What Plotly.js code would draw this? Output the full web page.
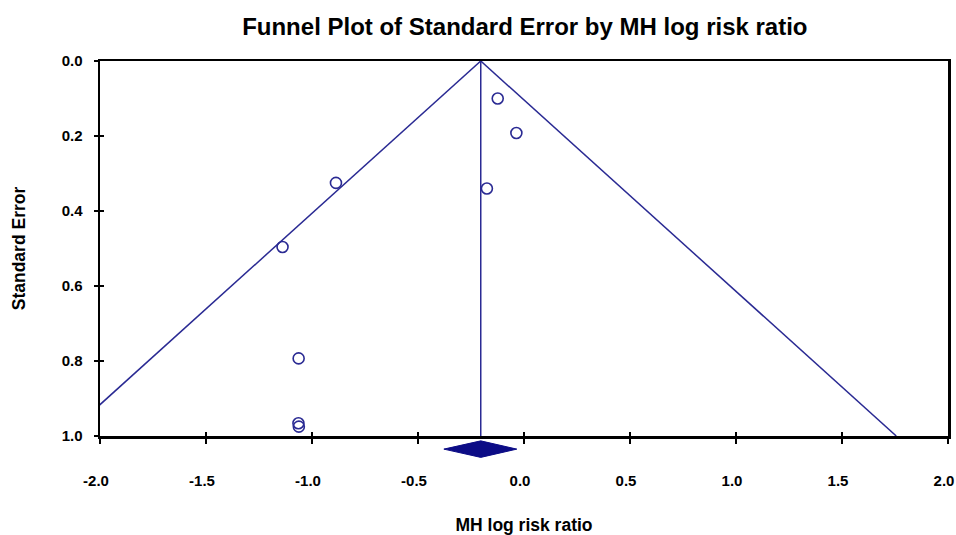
<!DOCTYPE html>
<html>
<head>
<meta charset="utf-8">
<script src="https://cdn.plot.ly/plotly-3.0.1.min.js"></script>
<style>html,body{margin:0;padding:0;background:#fff}#chart{width:956px;height:535px}</style>
</head>
<body>
<div id="chart"></div>
<script>
// Study effects (MH log risk ratio) and standard errors
const studyLogRR = [-0.124, -0.036, -0.175, -0.887, -1.139, -1.063, -1.064, -1.062];
const studySE    = [0.100, 0.192, 0.340, 0.325, 0.496, 0.793, 0.966, 0.975];
// Pooled estimate and its confidence interval
const pooledLogRR = -0.204;
const pooledLow = -0.378;
const pooledHigh = -0.034;
const diamondSE = 1.035;
const diamondHalf = 0.022;
// Funnel limits (1.96 * SE)
const funnelSE = [0, 1];
const xTicks = [-2.0, -1.5, -1.0, -0.5, 0.0, 0.5, 1.0, 1.5, 2.0];
const yTicks = [0.0, 0.2, 0.4, 0.6, 0.8, 1.0];

const navy = '#2a2a93';
const font = 'Liberation Sans, Arial, sans-serif';

const leftX = funnelSE.map(s => pooledLogRR - 1.96 * s);
const rightX = funnelSE.map(s => pooledLogRR + 1.96 * s);

const traces = [
  {x: leftX, y: funnelSE, mode: 'lines', line: {color: navy, width: 1.5}, hoverinfo: 'skip'},
  {x: rightX, y: funnelSE, mode: 'lines', line: {color: navy, width: 1.5}, hoverinfo: 'skip'},
  {x: [pooledLogRR, pooledLogRR], y: funnelSE, mode: 'lines', line: {color: navy, width: 1.5}, hoverinfo: 'skip'},
  {x: studyLogRR, y: studySE, mode: 'markers',
   marker: {symbol: 'circle-open', size: 11, color: navy, line: {width: 1.6, color: navy}}},
  {x: [pooledLow, pooledLogRR, pooledHigh, pooledLogRR, pooledLow],
   y: [diamondSE, diamondSE - diamondHalf, diamondSE, diamondSE + diamondHalf, diamondSE],
   xaxis: 'x', yaxis: 'y3',
   mode: 'lines', fill: 'toself', fillcolor: '#0c0c86', line: {color: '#0c0c86', width: 1},
   cliponaxis: false, hoverinfo: 'skip'},
  // invisible trace to activate the overlay tick axes
  {x: [0], y: [0.5], xaxis: 'x2', yaxis: 'y2', mode: 'markers', marker: {opacity: 0}, hoverinfo: 'skip'}
];

const tickLabels = xTicks.map(v => v.toFixed(1));
const yLabels = yTicks.map(v => v.toFixed(1));

// plot region: top 61, bottom 495; main axis bottom at 436 (375 px tall)
const marginB = 40;
const regionH = 535 - 61 - marginB;
const belowPx = 535 - marginB - 436;
const mainBottom = belowPx / regionH;

const layout = {
  width: 956, height: 535,
  margin: {l: 100, r: 8, t: 61, b: marginB},
  paper_bgcolor: '#fff', plot_bgcolor: 'rgba(0,0,0,0)',
  showlegend: false,
  title: {text: '<b>Funnel Plot of Standard Error by MH log risk ratio</b>',
          font: {family: font, size: 24, color: '#000'}, x: 0.549, xanchor: 'center', y: 0.95, yanchor: 'middle'},
  xaxis: {range: [-2, 2], anchor: 'y', tickvals: xTicks, ticktext: tickLabels.map(t => '<b>' + t + '</b>'),
          ticks: 'outside', ticklen: 5, tickwidth: 2, tickcolor: '#000',
          showline: true, linewidth: 2.5, linecolor: '#000', mirror: true,
          showgrid: false, zeroline: false, ticklabelstandoff: 24, ticklabelshift: -4,
          tickfont: {family: font, size: 15, color: '#000'}, automargin: false,
          title: {text: '<b>MH log risk ratio</b>', font: {family: font, size: 17.5, color: '#000'}, standoff: 42}},
  xaxis2: {range: [-2, 2], overlaying: 'x', anchor: 'y', side: 'bottom', tickvals: xTicks, showticklabels: false,
           ticks: 'inside', ticklen: 4, tickwidth: 2, tickcolor: '#000', showline: false, showgrid: false, zeroline: false},
  yaxis: {range: [1, 0], domain: [mainBottom, 1], tickvals: yTicks, ticktext: yLabels.map(t => '<b>' + t + '</b>'),
          ticks: 'outside', ticklen: 4, tickwidth: 1.5, tickcolor: '#000',
          showline: true, linewidth: 2.5, linecolor: '#000', mirror: true,
          showgrid: false, zeroline: false, ticklabelstandoff: 8, automargin: false,
          tickfont: {family: font, size: 15, color: '#000'},
          title: {text: '<b>Standard Error</b>', font: {family: font, size: 17.5, color: '#000'}, standoff: 32}},
  yaxis2: {range: [1, 0], overlaying: 'y', side: 'left', tickvals: yTicks, showticklabels: false,
           ticks: 'inside', ticklen: 4, tickwidth: 1.5, tickcolor: '#000', showline: false, showgrid: false, zeroline: false},
  yaxis3: {range: [1 + belowPx / 375, 1], domain: [0, mainBottom], anchor: 'x', visible: false, showgrid: false, zeroline: false}
};

Plotly.newPlot('chart', traces, layout, {displayModeBar: false, staticPlot: true});
</script>
</body>
</html>
